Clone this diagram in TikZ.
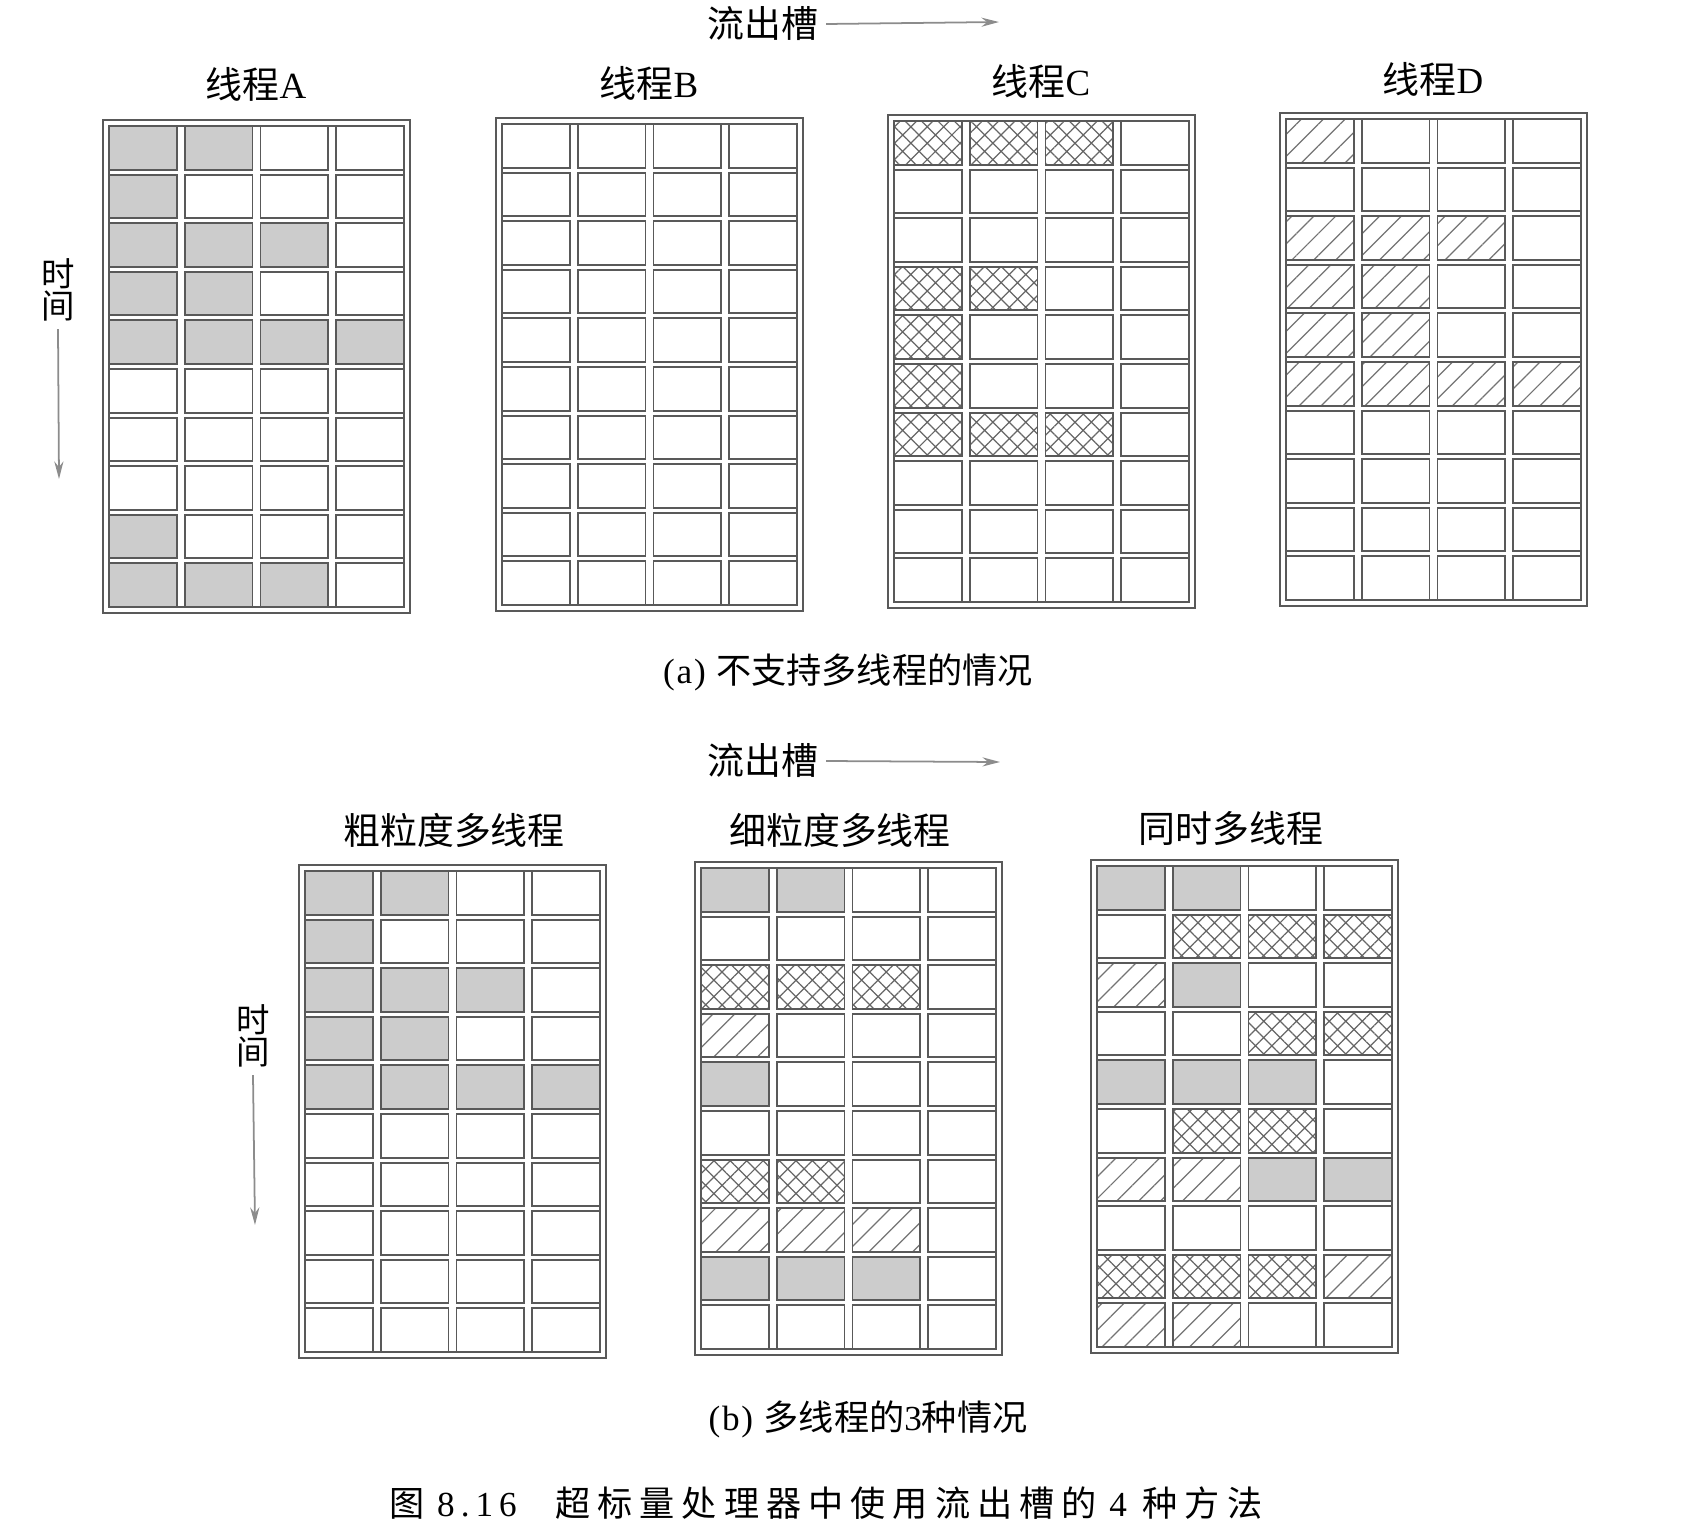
\documentclass[tikz,border=0pt]{standalone}
\usepackage{fontspec}
\setmainfont{Liberation Serif}
\newfontfamily\cjk{Noto Sans CJK SC}
\newfontfamily\cjkwide[LetterSpace=20]{Noto Sans CJK SC}
\usetikzlibrary{arrows.meta}
\usetikzlibrary{patterns.meta}
\usetikzlibrary{positioning}

\tikzset{
  frame/.style={draw=black!65, line width=0.55pt},
  slot/.style={draw=black!65, line width=0.55pt},
  slot 0/.style={},
  slot g/.style={fill=gray!40},
  slot x/.style={pattern={Hatch[angle=45,distance=3.3pt,line width=0.35pt]}, pattern color=black!60},
  slot d/.style={pattern={Lines[angle=45,distance=4.4pt,line width=0.35pt]}, pattern color=black!55},
  label/.style={font=\fontsize{10.5}{12}\selectfont, inner sep=2pt},
  capt/.style={font=\fontsize{10}{12}\selectfont\addfontfeature{LetterSpace=5}, inner sep=2pt},
  axis/.style={draw=black!45, line width=0.5pt, -{Stealth[length=5pt,width=2.6pt]}}
}

% one grid of issue slots: #1 = top left corner, #2 = rows of 4 cells
\newcommand{\slotgrid}[2]{%
  \begin{scope}[shift={(#1)}]
    \draw[frame] (0,0) rectangle (307,493);
    \draw[frame] (6,6) rectangle (301,487);
    \foreach \row [count=\r] in {#2} {
      \foreach \c [count=\k] in \row {
        \draw[slot, slot \c] ({6+(\k-1)*75.75},{6+(\r-1)*48.6}) rectangle ++(67.75,43.6);
      }
    }
  \end{scope}}

\begin{document}
\begin{tikzpicture}[x=0.01cm,y=-0.01cm]
  \useasboundingbox (0,0) rectangle (1708,1530);

  % (a) no multithreading
  \coordinate (gA) at (103,120);
  \coordinate (gB) at (496,118);
  \coordinate (gC) at (888,115);
  \coordinate (gD) at (1280,113);

  \slotgrid{gA}{{g,g,0,0},{g,0,0,0},{g,g,g,0},{g,g,0,0},{g,g,g,g},{0,0,0,0},{0,0,0,0},{0,0,0,0},{g,0,0,0},{g,g,g,0}}
  \slotgrid{gB}{{0,0,0,0},{0,0,0,0},{0,0,0,0},{0,0,0,0},{0,0,0,0},{0,0,0,0},{0,0,0,0},{0,0,0,0},{0,0,0,0},{0,0,0,0}}
  \slotgrid{gC}{{x,x,x,0},{0,0,0,0},{0,0,0,0},{x,x,0,0},{x,0,0,0},{x,0,0,0},{x,x,x,0},{0,0,0,0},{0,0,0,0},{0,0,0,0}}
  \slotgrid{gD}{{d,0,0,0},{0,0,0,0},{d,d,d,0},{d,d,0,0},{d,d,0,0},{d,d,d,d},{0,0,0,0},{0,0,0,0},{0,0,0,0},{0,0,0,0}}

  \node[label] (titleA) at (256,84) {{\cjk 线程}A};
  \node[label] (titleB) at (649,83) {{\cjk 线程}B};
  \node[label] (titleC) at (1041,81) {{\cjk 线程}C};
  \node[label] (titleD) at (1433,79) {{\cjk 线程}D};

  \node[label] (slotA) at (763,24) {\cjk 流出槽};
  \coordinate (slotAend) at (999,22);
  \draw[axis] (slotA.east) -- (slotAend);

  \node[label, align=center, font=\fontsize{9.5}{9.2}\selectfont] (timeA) at (58,290) {\cjk 时\\\cjk 间};
  \coordinate (timeAend) at (59,479);
  \draw[axis] (timeA.south) -- (timeAend);

  \node[capt] (captA) at (848,672) {(a) {\cjk 不支持多线程的情况}};

  % (b) three kinds of multithreading
  \coordinate (gCoarse) at (299,865);
  \coordinate (gFine) at (695,862);
  \coordinate (gSmt) at (1091,860);

  \slotgrid{gCoarse}{{g,g,0,0},{g,0,0,0},{g,g,g,0},{g,g,0,0},{g,g,g,g},{0,0,0,0},{0,0,0,0},{0,0,0,0},{0,0,0,0},{0,0,0,0}}
  \slotgrid{gFine}{{g,g,0,0},{0,0,0,0},{x,x,x,0},{d,0,0,0},{g,0,0,0},{0,0,0,0},{x,x,0,0},{d,d,d,0},{g,g,g,0},{0,0,0,0}}
  \slotgrid{gSmt}{{g,g,0,0},{0,x,x,x},{d,g,0,0},{0,0,x,x},{g,g,g,0},{0,x,x,0},{d,d,g,g},{0,0,0,0},{x,x,x,d},{d,d,0,0}}

  \node[label] (titleCoarse) at (454,830) {\cjk 粗粒度多线程};
  \node[label] (titleFine) at (840,830) {\cjk 细粒度多线程};
  \node[label] (titleSmt) at (1231,828) {\cjk 同时多线程};

  \node[label] (slotB) at (763,761) {\cjk 流出槽};
  \coordinate (slotBend) at (1000,762);
  \draw[axis] (slotB.east) -- (slotBend);

  \node[label, align=center, font=\fontsize{9.5}{9.2}\selectfont] (timeB) at (253,1036) {\cjk 时\\\cjk 间};
  \coordinate (timeBend) at (255,1225);
  \draw[axis] (timeB.south) -- (timeBend);

  \node[capt] (captB) at (868,1419) {(b) {\cjk 多线程的}3{\cjk 种情况}};

  \node[capt, font=\fontsize{10}{12}\selectfont\addfontfeature{LetterSpace=17}] (figcap) at (826,1503)
    {{\cjkwide 图}\hspace{0.35em}8.16\hspace{1.1em}{\cjkwide 超标量处理器中使用流出槽的}\hspace{0.35em}4\hspace{0.45em}{\cjkwide 种方法}};
\end{tikzpicture}
\end{document}
